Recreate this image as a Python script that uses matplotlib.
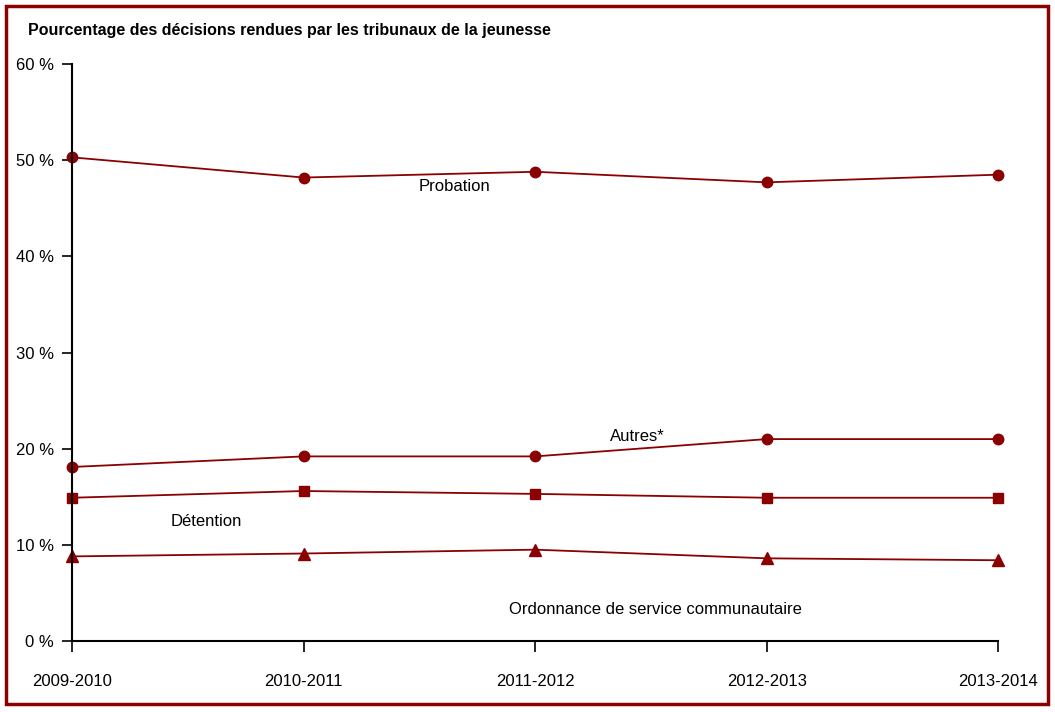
import matplotlib.pyplot as plt
from matplotlib.patches import Rectangle

plt.rcParams['font.family'] = ['Liberation Sans Narrow', 'Liberation Sans', 'DejaVu Sans']

years = ['2009-2010', '2010-2011', '2011-2012', '2012-2013', '2013-2014']
probation = [50.3, 48.2, 48.8, 47.7, 48.5]
autres = [18.1, 19.2, 19.2, 21.0, 21.0]
detention = [14.9, 15.6, 15.3, 14.9, 14.9]
service = [8.8, 9.1, 9.5, 8.6, 8.4]

red = '#8b0000'
x = range(len(years))
fs = 12

fig = plt.figure(figsize=(10.55, 7.12), dpi=100)
ax = fig.add_axes([0.0682, 0.0997, 0.878, 0.8103])

ax.plot(x, probation, color=red, marker='o', markersize=7.5, linewidth=1.3, clip_on=False)
ax.plot(x, autres, color=red, marker='o', markersize=7.5, linewidth=1.3, clip_on=False)
ax.plot(x, detention, color=red, marker='s', markersize=7, linewidth=1.3, clip_on=False)
ax.plot(x, service, color=red, marker='^', markersize=8, linewidth=1.3, clip_on=False)

ax.text(1.65, 47.3, 'Probation', fontsize=fs, ha='center', va='center')
ax.text(2.44, 21.3, 'Autres*', fontsize=fs, ha='center', va='center')
ax.text(0.58, 12.4, 'Détention', fontsize=fs, ha='center', va='center')
ax.text(2.52, 3.3, 'Ordonnance de service communautaire', fontsize=fs, ha='center', va='center')

ax.set_xlim(0, 4)
ax.set_ylim(0, 60)
ax.set_yticks(range(0, 61, 10))
ax.set_yticklabels([f'{v} %' for v in range(0, 61, 10)], fontsize=fs)
ax.set_xticks(list(x))
ax.set_xticklabels(years, fontsize=fs)
ax.tick_params(axis='y', direction='out', length=7, width=1.2, pad=6)
ax.tick_params(axis='x', direction='out', length=8, width=1.2, pad=16)
for s in ['top', 'right']:
    ax.spines[s].set_visible(False)
ax.spines['left'].set_linewidth(1.5)
ax.spines['bottom'].set_linewidth(1.5)

fig.text(28 / 1055, 1 - 31 / 712, 'Pourcentage des décisions rendues par les tribunaux de la jeunesse',
         fontsize=11.5, fontweight='bold', ha='left', va='center')

fig.patches.append(Rectangle((6 / 1055, 8 / 712), 1042 / 1055, 698 / 712, transform=fig.transFigure,
                             fill=False, edgecolor=red, linewidth=2.5))

fig.savefig('out.png', dpi=100)
